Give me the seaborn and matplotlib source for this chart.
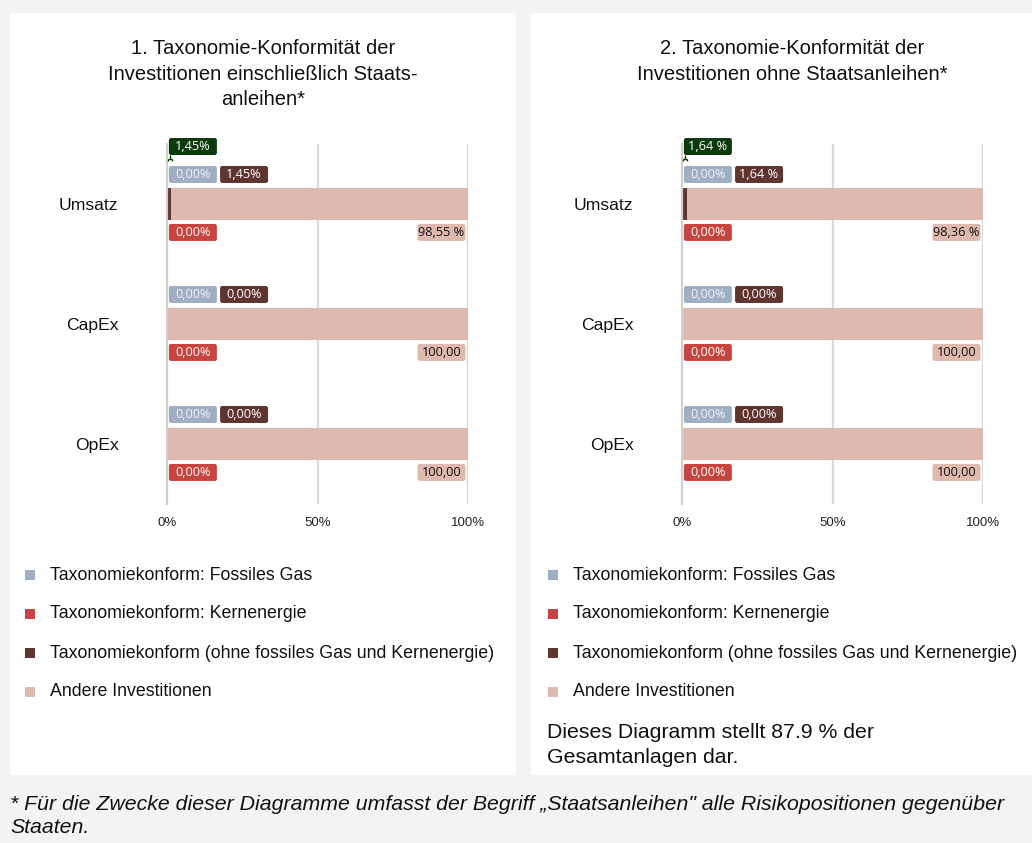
import matplotlib
matplotlib.use("Agg")
import matplotlib.pyplot as plt
from matplotlib.patches import Rectangle, FancyBboxPatch
import seaborn as sns
import pandas as pd
import numpy as np

# ---------------- data ----------------
categories = ["Umsatz", "CapEx", "OpEx"]
series_names = [
    "Taxonomiekonform: Fossiles Gas",
    "Taxonomiekonform: Kernenergie",
    "Taxonomiekonform (ohne fossiles Gas und Kernenergie)",
    "Andere Investitionen",
]
series_colors = ["#9eafc4", "#c8443e", "#5f3530", "#dfb9af"]

c1_gas = [0.0, 0.0, 0.0]
c1_nuclear = [0.0, 0.0, 0.0]
c1_aligned = [1.45, 0.0, 0.0]
c1_other = [98.55, 100.0, 100.0]

c2_gas = [0.0, 0.0, 0.0]
c2_nuclear = [0.0, 0.0, 0.0]
c2_aligned = [1.64, 0.0, 0.0]
c2_other = [98.36, 100.0, 100.0]

c1_lbl_gas = ["0,00%", "0,00%", "0,00%"]
c1_lbl_nuclear = ["0,00%", "0,00%", "0,00%"]
c1_lbl_aligned = ["1,45%", "0,00%", "0,00%"]
c1_lbl_other = ["98,55 %", "100,00", "100,00"]
c1_lbl_total = "1,45%"

c2_lbl_gas = ["0,00%", "0,00%", "0,00%"]
c2_lbl_nuclear = ["0,00%", "0,00%", "0,00%"]
c2_lbl_aligned = ["1,64 %", "0,00%", "0,00%"]
c2_lbl_other = ["98,36 %", "100,00", "100,00"]
c2_lbl_total = "1,64 %"

x_ticks = [0, 50, 100]
x_ticklabels = ["0%", "50%", "100%"]

title1 = "1. Taxonomie-Konformität der\nInvestitionen einschließlich Staats-\nanleihen*"
title2 = "2. Taxonomie-Konformität der\nInvestitionen ohne Staatsanleihen*"
note2 = "Dieses Diagramm stellt 87.9 % der\nGesamtanlagen dar."
footnote = ("* Für die Zwecke dieser Diagramme umfasst der Begriff \u201eStaatsanleihen\" "
            "alle Risikopositionen gegenüber\nStaaten.")

# ---------------- style ----------------
sns.set_theme(style="white")
FONT = ["Liberation Sans", "DejaVu Sans"]
LBLFONT = ["Open Sans", "DejaVu Sans"]
plt.rcParams["font.family"] = FONT

W, H = 1032, 843
fig = plt.figure(figsize=(W / 100, H / 100), dpi=100)
fig.patch.set_facecolor("#f3f3f3")


def fx(px):
    return px / W


def fy(py):
    return 1 - py / H


# panels
for x0, x1 in [(10, 516), (531, 1040)]:
    fig.patches.append(Rectangle((fx(x0), fy(775)), fx(x1 - x0), (775 - 13) / H,
                                 transform=fig.transFigure, facecolor="white",
                                 edgecolor="none", zorder=-5))

AX_W_PX, AX_H_PX = 301, 360
XU = AX_W_PX / 100.0      # px per x unit
YU = AX_H_PX / 3.0        # px per y unit


def draw_chart(ax_left_px, gas, nuclear, aligned, other,
               l_gas, l_nuc, l_ali, l_oth, l_tot):
    ax = fig.add_axes([fx(ax_left_px), fy(504), AX_W_PX / W, AX_H_PX / H])
    ax.set_zorder(2)
    ax.set_facecolor("none")
    df = pd.DataFrame({"cat": categories, "gas": gas, "nuclear": nuclear,
                       "aligned": aligned, "other": other})
    cum = df[["gas", "nuclear", "aligned", "other"]].cumsum(axis=1)
    # draw from largest cumulative to smallest so segments stack
    for col, color in zip(["other", "aligned", "nuclear", "gas"],
                          [series_colors[3], series_colors[2], series_colors[1], series_colors[0]]):
        sns.barplot(x=cum[col], y=df["cat"], orient="h", color=color,
                    saturation=1, width=0.26, ax=ax, zorder=3, linewidth=0,
                    errorbar=None)
    ax.set_xlim(0, 100)
    ax.set_ylim(2.5, -0.5)
    ax.set_xlabel("")
    ax.set_ylabel("")
    for s in ["top", "right", "bottom"]:
        ax.spines[s].set_visible(False)
    ax.spines["left"].set_color("#d0d0d0")
    ax.spines["left"].set_linewidth(1.6)
    ax.spines["left"].set_zorder(4)
    ax.set_xticks(x_ticks)
    ax.set_xticklabels(x_ticklabels, fontsize=9.5, color="#222222")
    ax.tick_params(axis="x", length=0, pad=9)
    ax.set_yticks(range(len(categories)))
    ax.set_yticklabels(categories, fontsize=12.6, color="#111111")
    ax.tick_params(axis="y", which="major", length=0, pad=35)
    ax.set_yticks([-0.5, 0.5, 1.5, 2.5], minor=True)
    ax.tick_params(axis="y", which="minor", length=4, width=1.2, color="#d0d0d0",
                   direction="out")
    for xv in [50, 100]:
        ax.axvline(xv, color="#d9d9d9", lw=1.6, zorder=1)

    bw = 48 / XU
    bh = 17 / YU

    def box(xc, yc, txt, fc, tc):
        p = FancyBboxPatch((xc - bw / 2, yc - bh / 2), bw, bh,
                           boxstyle="round,pad=0,rounding_size=0.75",
                           mutation_aspect=XU / YU, fc=fc, ec="none",
                           zorder=5, clip_on=False)
        ax.add_patch(p)
        ax.text(xc, yc, txt, ha="center", va="center", fontsize=9.2,
                family=LBLFONT, color=tc, zorder=6, clip_on=False)

    for i in range(len(categories)):
        box(8.6, i - 0.246, l_gas[i], series_colors[0], "#eef2f7")
        box(25.6, i - 0.246, l_ali[i], series_colors[2], "white")
        box(8.6, i + 0.237, l_nuc[i], series_colors[1], "white")
        box(91.2, i + 0.237, l_oth[i], series_colors[3], "#111111")
    box(8.6, -0.479, l_tot, "#0b3b0b", "white")
    # small leader connector from the total callout
    lk = dict(color="#0b3b0b", lw=1, zorder=6, clip_on=False, solid_capstyle="butt")
    ax.plot([1.0, 1.0], [-0.408, -0.375], **lk)
    ax.plot([0.4, 1.6], [-0.375, -0.375], **lk)
    ax.plot([0.4, 0.4], [-0.375, -0.357], **lk)
    ax.plot([1.6, 1.6], [-0.375, -0.357], **lk)
    return ax


draw_chart(167, c1_gas, c1_nuclear, c1_aligned, c1_other,
           c1_lbl_gas, c1_lbl_nuclear, c1_lbl_aligned, c1_lbl_other, c1_lbl_total)
draw_chart(682, c2_gas, c2_nuclear, c2_aligned, c2_other,
           c2_lbl_gas, c2_lbl_nuclear, c2_lbl_aligned, c2_lbl_other, c2_lbl_total)

# titles
fig.text(fx(263), fy(74), title1, ha="center", va="center", fontsize=14.5,
         color="#111111", linespacing=1.42)
fig.text(fx(792), fy(61.5), title2, ha="center", va="center", fontsize=14.5,
         color="#111111", linespacing=1.42)

# legends
for sq_x in [25, 548]:
    for k, (name, col) in enumerate(zip(series_names, series_colors)):
        yc = 575 + 39 * k
        fig.patches.append(Rectangle((fx(sq_x), fy(yc + 5)), fx(10), 10 / H,
                                     transform=fig.transFigure, facecolor=col,
                                     edgecolor="none", zorder=2))
        fig.text(fx(sq_x + 25), fy(yc), name, ha="left", va="center",
                 fontsize=12.8, color="#111111")

fig.text(fx(547), fy(745), note2, ha="left", va="center", fontsize=15.3,
         color="#111111", linespacing=1.4)
fig.text(fx(10), fy(816), footnote, ha="left", va="center", fontsize=15.3,
         style="italic", color="#111111", linespacing=1.28)

fig.savefig("out.png", dpi=100, facecolor=fig.get_facecolor())
